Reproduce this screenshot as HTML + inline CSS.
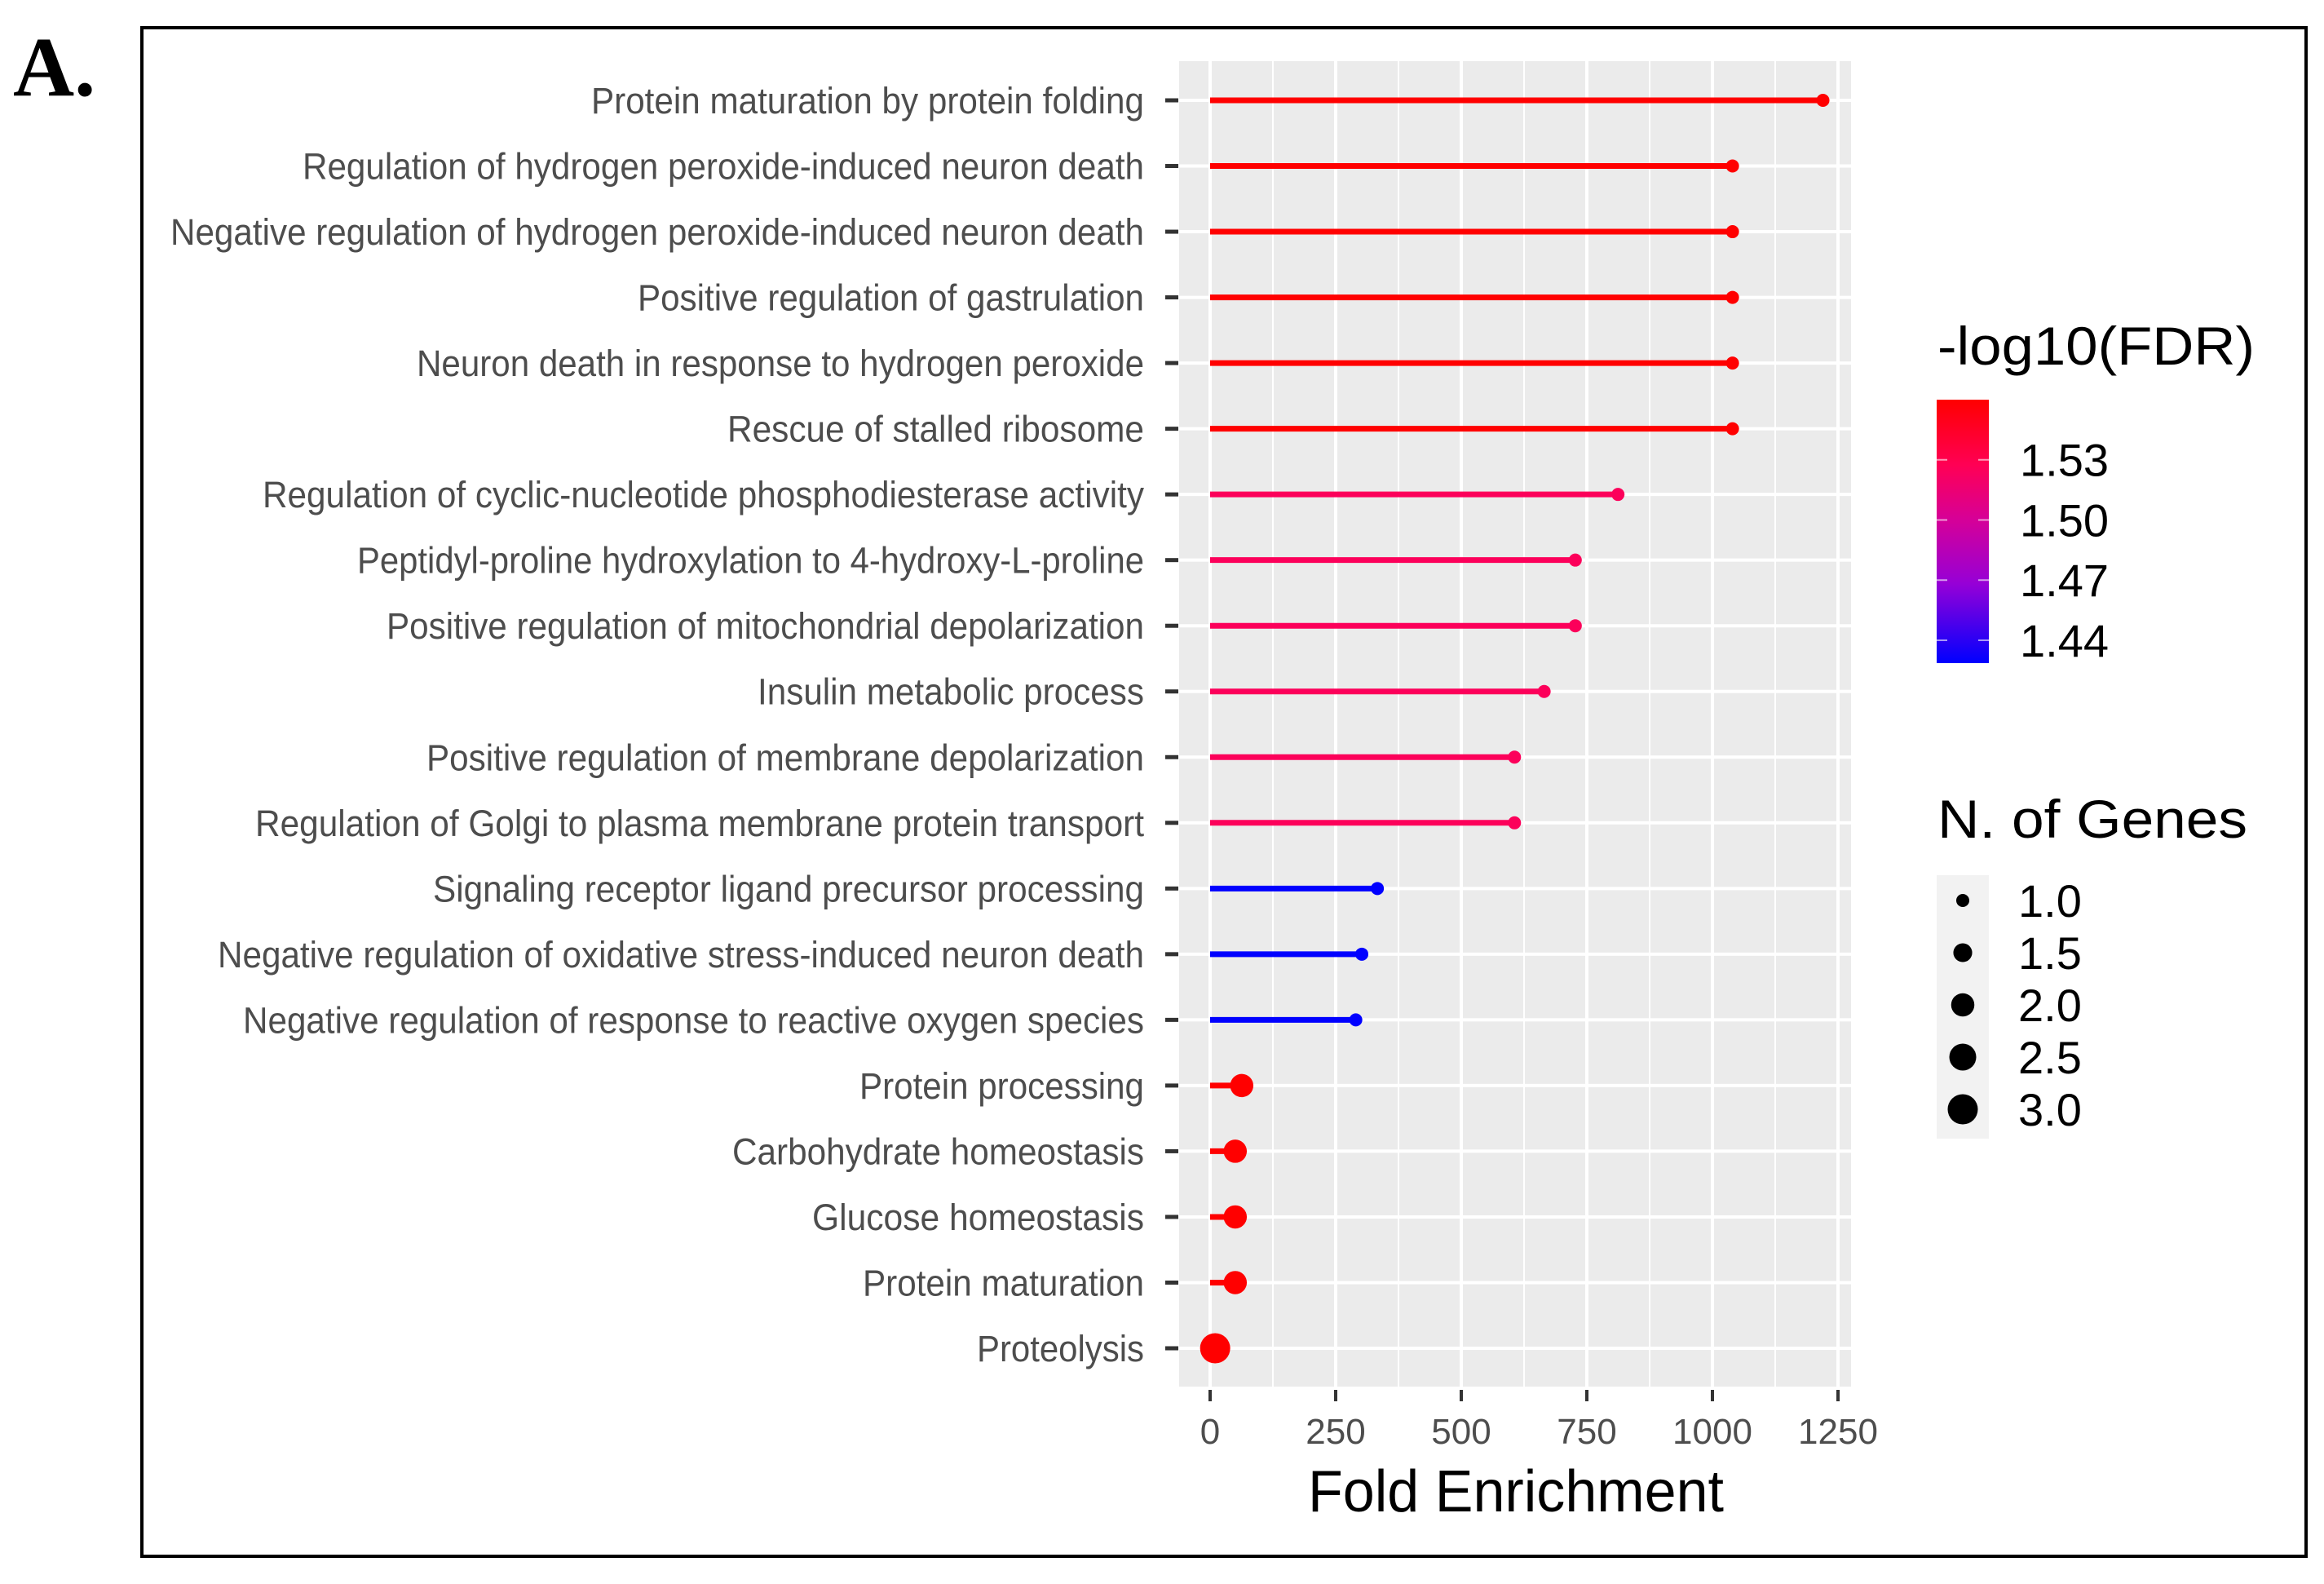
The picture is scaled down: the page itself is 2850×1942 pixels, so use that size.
<!DOCTYPE html>
<html><head><meta charset="utf-8"><style>
html,body{margin:0;padding:0;background:#fff;}
svg{display:block;}
</style></head><body>
<svg id="chart" width="2850" height="1942" viewBox="0 0 2850 1942" xmlns="http://www.w3.org/2000/svg">
<rect x="0" y="0" width="2850" height="1942" fill="#fff"/>
<text x="16" y="117" font-family="Liberation Serif, serif" font-weight="bold" font-size="104">A.</text>
<rect x="174" y="34" width="2654" height="1874" fill="none" stroke="#000" stroke-width="4"/>
<g id="plot"></g>
</svg>
<script>
const categories = [
"Protein maturation by protein folding",
"Regulation of hydrogen peroxide-induced neuron death",
"Negative regulation of hydrogen peroxide-induced neuron death",
"Positive regulation of gastrulation",
"Neuron death in response to hydrogen peroxide",
"Rescue of stalled ribosome",
"Regulation of cyclic-nucleotide phosphodiesterase activity",
"Peptidyl-proline hydroxylation to 4-hydroxy-L-proline",
"Positive regulation of mitochondrial depolarization",
"Insulin metabolic process",
"Positive regulation of membrane depolarization",
"Regulation of Golgi to plasma membrane protein transport",
"Signaling receptor ligand precursor processing",
"Negative regulation of oxidative stress-induced neuron death",
"Negative regulation of response to reactive oxygen species",
"Protein processing",
"Carbohydrate homeostasis",
"Glucose homeostasis",
"Protein maturation",
"Proteolysis"];
const foldEnrichment = [1220,1040,1040,1040,1040,1040,812,727,727,665,606,606,333,302,290,63,50,50,50,10];
const negLog10FDR = [1.56,1.56,1.56,1.56,1.56,1.56,1.525,1.525,1.525,1.525,1.525,1.525,1.4286,1.4286,1.4286,1.56,1.56,1.56,1.56,1.56];
const geneCounts = [1,1,1,1,1,1,1,1,1,1,1,1,1,1,1,2,2,2,2,3];
const labelStartX = [725,371,209,782,511,892,322,438,474,929,523,313,531,267,298,1054,898,996,1058,1198];
const xTicks = [0,250,500,750,1000,1250];
const xTickLabels = ["0","250","500","750","1000","1250"];
const colorTicks = [1.53,1.50,1.47,1.44];
const sizeTicks = [1.0,1.5,2.0,2.5,3.0];

const NS="http://www.w3.org/2000/svg";
const g=document.getElementById('plot');
const P={l:1446,r:2270,t:75,b:1700};
const cMin=1.4286,cMax=1.56;
function xs(v){return 1484+v*(2254-1484)/1250;}
function ys(i){return 123+i*(1653-123)/(categories.length-1);}
function rs(n){return Math.sqrt(64+(n-1)/2*(342-64));}
const stops=[[0,[0,0,255]],[0.3,[150,0,215]],[0.55,[215,0,150]],[0.75,[255,0,85]],[1,[255,0,0]]];
function col(v){let t=Math.max(0,Math.min(1,(v-cMin)/(cMax-cMin)));for(let k=1;k<stops.length;k++){if(t<=stops[k][0]){const a=stops[k-1],b=stops[k];const f=(t-a[0])/(b[0]-a[0]);const c=a[1].map((q,j)=>Math.round(q+(b[1][j]-q)*f));return `rgb(${c[0]},${c[1]},${c[2]})`;}}return 'rgb(255,0,0)';}
function cy(v){return 813-(v-cMin)/(cMax-cMin)*(813-490);}
function mk(tag,attrs,parent){const e=document.createElementNS(NS,tag);for(const k in attrs)e.setAttribute(k,attrs[k]);(parent||g).appendChild(e);return e;}

let e=mk('rect',{x:P.l,y:P.t,width:P.r-P.l,height:P.b-P.t,fill:'#ebebeb'});


for(let k=0;k<xTicks.length;k++){const v=xTicks[k]-125;if(xs(v)>P.l){e=mk('line',{x1:xs(v),x2:xs(v),y1:P.t,y2:P.b,stroke:'#fff','stroke-width':2});

}}
for(let k=0;k<xTicks.length;k++){e=mk('line',{x1:xs(xTicks[k]),x2:xs(xTicks[k]),y1:P.t,y2:P.b,stroke:'#fff','stroke-width':4});

}
for(let i=0;i<categories.length;i++){e=mk('line',{x1:P.l,x2:P.r,y1:ys(i),y2:ys(i),stroke:'#fff','stroke-width':4});

}
for(let k=0;k<xTicks.length;k++){const x=xs(xTicks[k]);
e=mk('line',{x1:x,x2:x,y1:P.b+4,y2:P.b+18,stroke:'#333','stroke-width':4});


e=mk('text',{x:x,y:1770,'text-anchor':'middle','font-family':'Liberation Sans, sans-serif','font-size':44,fill:'#4d4d4d'});
e.textContent=xTickLabels[k];

}
e=mk('text',{x:1859,y:1853,'text-anchor':'middle','font-family':'Liberation Sans, sans-serif','font-size':72,fill:'#000',textLength:510,lengthAdjust:'spacingAndGlyphs'});
e.textContent='Fold Enrichment';


for(let i=0;i<categories.length;i++){const y=ys(i);
e=mk('line',{x1:1429,x2:1445,y1:y,y2:y,stroke:'#333','stroke-width':5});


e=mk('text',{x:labelStartX[i],y:y+16,'font-family':'Liberation Sans, sans-serif','font-size':45,fill:'#4d4d4d',textLength:1403-labelStartX[i],lengthAdjust:'spacingAndGlyphs'});
e.textContent=categories[i];


const c=col(negLog10FDR[i]);
e=mk('line',{x1:xs(0),x2:xs(foldEnrichment[i]),y1:y,y2:y,stroke:c,'stroke-width':7});


e=mk('circle',{cx:xs(foldEnrichment[i]),cy:y,r:rs(geneCounts[i]),fill:c});

}
e=mk('text',{x:2376,y:447,'font-family':'Liberation Sans, sans-serif','font-size':66,fill:'#000',textLength:389,lengthAdjust:'spacingAndGlyphs'});
e.textContent='-log10(FDR)';


const defs=mk('defs',{});
const lg=mk('linearGradient',{id:'cg',x1:0,y1:1,x2:0,y2:0},defs);
for(let k=0;k<=20;k++){mk('stop',{offset:k/20,'stop-color':col(cMin+(cMax-cMin)*k/20)},lg);}
e=mk('rect',{x:2375,y:490,width:64,height:323,fill:'url(#cg)'});


for(let k=0;k<colorTicks.length;k++){const y=cy(colorTicks[k]);
mk('line',{x1:2375,x2:2388,y1:y,y2:y,stroke:'#fff','stroke-width':2,opacity:0.6});
mk('line',{x1:2426,x2:2439,y1:y,y2:y,stroke:'#fff','stroke-width':2,opacity:0.6});
e=mk('text',{x:2477,y:y+20,'font-family':'Liberation Sans, sans-serif','font-size':56,fill:'#000'});
e.textContent=colorTicks[k].toFixed(2);

}
e=mk('text',{x:2376,y:1027,'font-family':'Liberation Sans, sans-serif','font-size':66,fill:'#000',textLength:380,lengthAdjust:'spacingAndGlyphs'});
e.textContent='N. of Genes';


e=mk('rect',{x:2375,y:1073,width:64,height:323,fill:'#f2f2f2'});


for(let k=0;k<sizeTicks.length;k++){const y=1104+k*64;
e=mk('circle',{cx:2407,cy:y,r:rs(sizeTicks[k]),fill:'#000'});


e=mk('text',{x:2475,y:y+20,'font-family':'Liberation Sans, sans-serif','font-size':56,fill:'#000'});
e.textContent=sizeTicks[k].toFixed(1);

}
</script>
</body></html>
